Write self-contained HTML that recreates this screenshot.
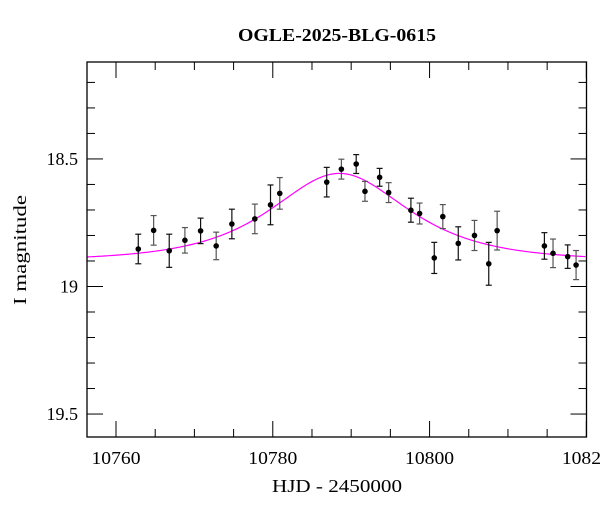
<!DOCTYPE html>
<html><head><meta charset="utf-8"><style>
html,body{margin:0;padding:0;background:#fff;}
svg{display:block;font-family:"Liberation Serif",serif;}
</style></head><body>
<svg id="chart" width="600" height="512" viewBox="0 0 600 512">
<text x="337" y="41" text-anchor="middle" font-size="18" font-weight="bold" textLength="198" lengthAdjust="spacingAndGlyphs">OGLE-2025-BLG-0615</text>
<g id="axes"></g>
<g id="model"></g>
<g id="points"></g>
<rect x="87" y="62" width="499.5" height="375" fill="none" stroke="#000" stroke-width="1.3"/>
<text x="337" y="492" text-anchor="middle" font-size="18" textLength="130" lengthAdjust="spacingAndGlyphs">HJD - 2450000</text>
<text transform="translate(26,250) rotate(-90)" text-anchor="middle" font-size="18" textLength="110" lengthAdjust="spacingAndGlyphs">I magnitude</text>
</svg>
<script>
const hjd=[10762.84,10764.8,10766.79,10768.79,10770.79,10772.78,10774.78,10777.71,10779.71,10780.89,10786.88,10788.75,10790.64,10791.76,10793.63,10794.78,10797.62,10798.73,10800.6,10801.69,10803.66,10805.73,10807.55,10808.62,10814.65,10815.75,10817.62,10818.69];
const mag=[18.853,18.78,18.86,18.819,18.782,18.841,18.755,18.735,18.68,18.635,18.591,18.54,18.52,18.627,18.572,18.632,18.701,18.714,18.888,18.726,18.831,18.8,18.911,18.781,18.841,18.87,18.883,18.916];
const err=[0.058,0.058,0.065,0.05,0.05,0.054,0.058,0.058,0.078,0.062,0.058,0.039,0.037,0.039,0.035,0.039,0.047,0.041,0.061,0.047,0.065,0.059,0.084,0.076,0.052,0.056,0.046,0.057];
const xTicks=[10760,10780,10800,10820];
const xTickLabels=["10760","10780","10800","10820"];
const yTicks=[18.5,19,19.5];
const yTickLabels=["18.5","19","19.5"];
const modelT0=10788.5, modelU0=0.96, modelTE=10.8, modelBase=18.90;

const NS="http://www.w3.org/2000/svg";
const L=87,R=586.5,T=62,B=437;
const xMin=10756.3,xMax=10820.02,yMin=18.12,yMax=19.59;
const sx=v=>L+(v-xMin)/(xMax-xMin)*(R-L);
const sy=v=>T+(v-yMin)/(yMax-yMin)*(B-T);
function mk(tag,attrs,parent){const e=document.createElementNS(NS,tag);for(const k in attrs)e.setAttribute(k,attrs[k]);parent.appendChild(e);return e;}
const axes=document.getElementById('axes');
for(let v=10760;v<=10820;v+=5){
  const x=sx(v);const major=(v%20===0);const len=major?16:8;
  const t1=mk('line',{x1:x,x2:x,y1:B,y2:B-len,stroke:'#000','stroke-width':1},axes);
  
  
  const t2=mk('line',{x1:x,x2:x,y1:T,y2:T+len,stroke:'#000','stroke-width':1},axes);
  
  
}
xTicks.forEach((v,i)=>{
  const t=mk('text',{x:sx(v),y:464,'text-anchor':'middle','font-size':18,textLength:49,lengthAdjust:'spacingAndGlyphs'},axes);
  t.textContent=xTickLabels[i];
  
  
});
for(let k=182;k<=195;k++){
  const v=k/10; if(v<yMin||v>yMax)continue;
  const y=sy(v);const major=(k%5===0);const len=major?16:8;
  const t1=mk('line',{x1:L,x2:L+len,y1:y,y2:y,stroke:'#000','stroke-width':1},axes);
  
  
  const t2=mk('line',{x1:R,x2:R-len,y1:y,y2:y,stroke:'#000','stroke-width':1},axes);
  
  
}
yTicks.forEach((v,i)=>{
  const t=mk('text',{x:78,y:sy(v)+6,'text-anchor':'end','font-size':18},axes);
  t.textContent=yTickLabels[i];
  
  
});
let d='';
for(let t=xMin;t<=xMax;t+=0.2){
  const tau=(t-modelT0)/modelTE;const u=Math.sqrt(modelU0*modelU0+tau*tau);
  const A=(u*u+2)/(u*Math.sqrt(u*u+4));
  const m=modelBase-2.5*Math.log10(A);
  d+=(d?'L':'M')+sx(t).toFixed(2)+','+sy(m).toFixed(2);
}
const path=mk('path',{d:d,fill:'none',stroke:'#ff00ff','stroke-width':1.2},document.getElementById('model'));


const pg=document.getElementById('points');
hjd.forEach((h,i)=>{
  const x=sx(h),y=sy(mag[i]),y1=sy(mag[i]-err[i]),y2=sy(mag[i]+err[i]);
  const col=i%2?'#555':'#111';
  const g=mk('g',{},pg);
  
  
  mk('line',{x1:x,x2:x,y1:y1,y2:y2,stroke:col,'stroke-width':1.2},g);
  mk('line',{x1:x-3,x2:x+3,y1:y1,y2:y1,stroke:col,'stroke-width':1.2},g);
  mk('line',{x1:x-3,x2:x+3,y1:y2,y2:y2,stroke:col,'stroke-width':1.2},g);
  mk('circle',{cx:x,cy:y,r:2.8,fill:'#000'},g);
});
</script>
</body></html>
